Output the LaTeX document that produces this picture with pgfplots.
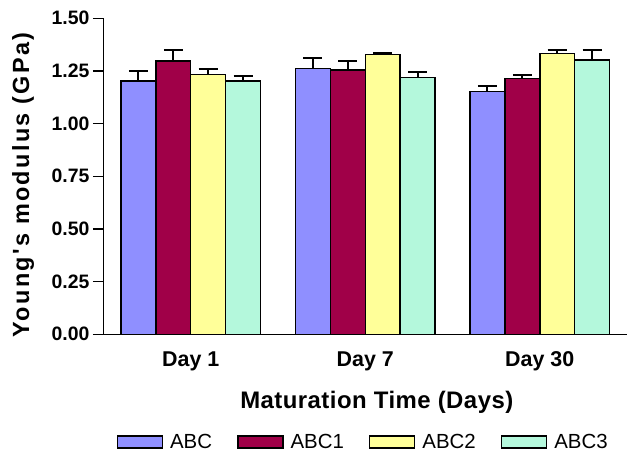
\documentclass[border=0pt]{standalone}
\usepackage{pgfplots}
\pgfplotsset{compat=1.18}
\usepackage{fontspec}
\setmainfont{Liberation Sans}
\newfontfamily\ylabfont[LetterSpace=10]{Liberation Sans}
\newfontfamily\xlabfont[LetterSpace=2]{Liberation Sans}
\definecolor{cA}{HTML}{8F8FFF}
\definecolor{cB}{HTML}{A00048}
\definecolor{cC}{HTML}{FFFF99}
\definecolor{cD}{HTML}{B4F8DC}
\begin{document}
\begin{tikzpicture}
\useasboundingbox (-103.5bp,-121.7bp) rectangle (523.5bp,334.3bp);
\begin{axis}[
  scale only axis, width=523.5bp, height=316bp,
  at={(0,0)}, anchor=south west,
  xmin=-2.5, xmax=12.5, ymin=0, ymax=1.5,
  enlargelimits=false,
  ybar, bar width=1,
  axis x line*=bottom, axis y line*=left,
  axis line style={line width=1.5bp, black},
  ytick={0,0.25,0.5,0.75,1,1.25,1.5},
  yticklabel style={font=\fontsize{19.5}{22}\selectfont\bfseries,
    /pgf/number format/fixed, /pgf/number format/fixed zerofill, /pgf/number format/precision=2},
  /pgf/number format/assume math mode=true,
  xtick={0,5,10}, xticklabels={Day 1, Day 7, Day 30},
  x tick style={draw=none},
  y tick style={line width=1.5bp, black},
  tick align=outside, major tick length=10.5bp,
  xticklabel style={font=\fontsize{21.5}{24}\selectfont\bfseries, yshift=-3bp},
  xlabel={Maturation Time (Days)},
  ylabel={Young's modulus (GPa)},
  xlabel style={font=\xlabfont\fontsize{24}{28}\selectfont\bfseries, at={(axis description cs:0.522,-0.234)}, anchor=base},
  ylabel style={font=\ylabfont\fontsize{23.5}{28}\selectfont\bfseries, at={(axis description cs:-0.1423,0.4725)}, anchor=base},
  legend columns=4,
  legend cell align=left,
  legend style={at={(axis description cs:0.494,-0.341)}, anchor=center, draw=none, fill=none,
    font=\fontsize{20.5}{24}\selectfont, nodes={inner xsep=0pt, inner ysep=2bp},
    /tikz/every odd column/.append style={column sep=7bp},
    /tikz/every even column/.append style={column sep=25bp}},
  legend image code/.code={\draw[#1, line width=1.5bp] (0bp,-6bp) rectangle (45bp,6bp);},
]
\addplot[bar shift=0pt, fill=cA, draw=black, line width=1.5bp,
  error bars/.cd, y dir=plus, y explicit,
  error bar style={line width=2bp, black},
  error mark options={rotate=90, mark size=9.5bp, line width=2bp, black}]
  table[x=x, y=y, y error=e] {
x y e
-1.5 1.203 0.045
3.5 1.262 0.049
8.5 1.152 0.027
};
\addplot[bar shift=0pt, fill=cB, draw=black, line width=1.5bp,
  error bars/.cd, y dir=plus, y explicit,
  error bar style={line width=2bp, black},
  error mark options={rotate=90, mark size=9.5bp, line width=2bp, black}]
  table[x=x, y=y, y error=e] {
x y e
-0.5 1.298 0.052
4.5 1.255 0.041
9.5 1.214 0.017
};
\addplot[bar shift=0pt, fill=cC, draw=black, line width=1.5bp,
  error bars/.cd, y dir=plus, y explicit,
  error bar style={line width=2bp, black},
  error mark options={rotate=90, mark size=9.5bp, line width=2bp, black}]
  table[x=x, y=y, y error=e] {
x y e
0.5 1.233 0.025
5.5 1.327 0.008
10.5 1.333 0.017
};
\addplot[bar shift=0pt, fill=cD, draw=black, line width=1.5bp,
  error bars/.cd, y dir=plus, y explicit,
  error bar style={line width=2bp, black},
  error mark options={rotate=90, mark size=9.5bp, line width=2bp, black}]
  table[x=x, y=y, y error=e] {
x y e
1.5 1.203 0.024
6.5 1.219 0.024
11.5 1.301 0.047
};
\legend{ABC,ABC1,ABC2,ABC3}
\end{axis}
\end{tikzpicture}
\end{document}
